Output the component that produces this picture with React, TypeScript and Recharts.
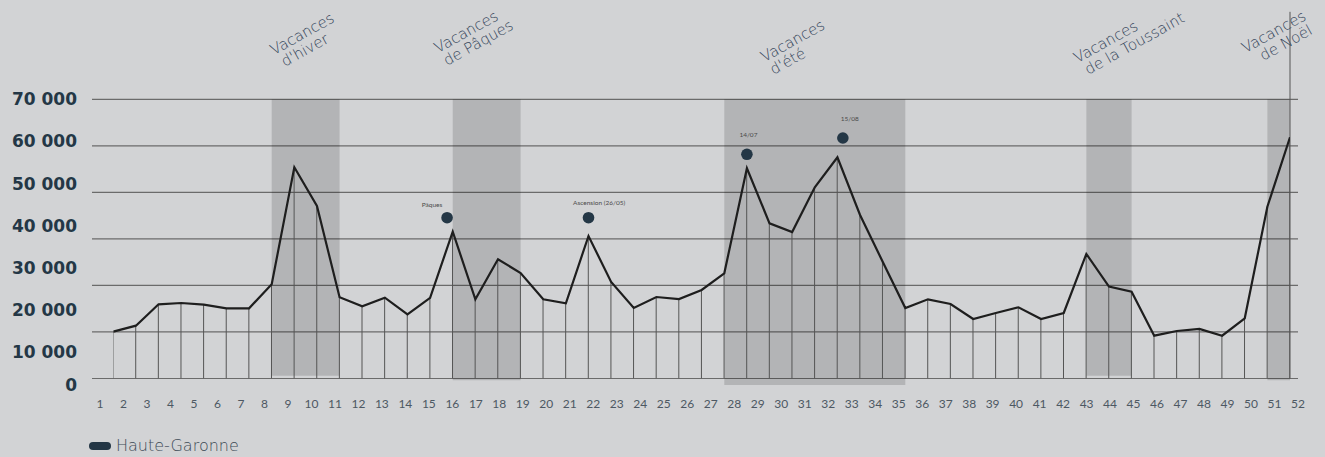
import React from 'react';
import {
  ComposedChart, Line, Bar, Scatter, XAxis, YAxis, CartesianGrid,
  ReferenceArea, ReferenceLine, Legend,
} from 'recharts';

// ---- data ----
const weekIndex = [
  1, 2, 3, 4, 5, 6, 7, 8, 9, 10, 11, 12, 13, 14, 15, 16, 17, 18, 19, 20,
  21, 22, 23, 24, 25, 26, 27, 28, 29, 30, 31, 32, 33, 34, 35, 36, 37, 38, 39, 40,
  41, 42, 43, 44, 45, 46, 47, 48, 49, 50, 51, 52, 53,
];
const hauteGaronne = [
  20060, 21350, 25950, 26220, 25860, 25090, 25090, 30240, 55390, 47070,
  27450, 25520, 27360, 23800, 27350, 41550, 27020, 35620, 32670, 27020,
  26160, 40620, 30740, 25150, 27510, 27080, 29020, 32610, 55170, 43350,
  41480, 51090, 57540, 45140, 35100, 25150, 27020, 26010, 22790, 24080,
  25300, 22790, 24080, 36760, 29770, 28650, 19200, 20210, 20640, 19200,
  22940, 46920, 61830,
];
const weekLabels = Array.from({ length: 52 }, (_, i) => i + 1);
const yTickValues = [0, 10000, 20000, 30000, 40000, 50000, 60000, 70000];
const gridValues = [10000, 20000, 30000, 40000, 50000, 60000, 70000];

const vacStart = [8, 16, 28, 44, 52];
const vacEnd = [11, 19, 36, 46, 53];
const vacBottom = [10600, 9650, 8600, 10600, 9650];
const vacLine1 = ['Vacances', 'Vacances', 'Vacances', 'Vacances', 'Vacances'];
const vacLine2 = ["d'hiver", 'de Pâques', "d'été", 'de la Toussaint', 'de Noël'];

const eventX = [15.75, 22, 29, 33.24];
const eventY = [44560, 44560, 58180, 61680];
const eventLabel = ['Pâques', 'Ascension (26/05)', '14/07', '15/08'];

const seriesName = 'Haute-Garonne';

// ---- derived tables ----
const rows = weekIndex.map((x, i) => ({ x, v: hauteGaronne[i] }));
const events = eventX.map((x, i) => ({ x, y: eventY[i], label: eventLabel[i], i }));

// ---- styles ----
const BG = '#d2d3d5';
const NAVY = '#243746';
const vacLabelOffset = [
  { dx: 2, dy: -44, l2: 4 },
  { dx: -15, dy: -46, l2: 2 },
  { dx: 40, dy: -37, l2: 2 },
  { dx: -9, dy: -36, l2: 4 },
  { dx: -22, dy: -46, l2: 12 },
];
const eventLabelOffset = [
  { dx: -15, dy: -13 },
  { dx: 10.6, dy: -15.4 },
  { dx: 1.5, dy: -20 },
  { dx: 7, dy: -19.7 },
];

const fmt = (v: number) => (v === 0 ? '0' : `${v / 1000} 000`);

const YTick = (props: any) => {
  const { x, y, payload } = props;
  const shift = payload.value === 0 ? -8.7 : 0;
  return (
    <text
      x={x}
      y={y + shift}
      dy="0.36em"
      textAnchor="end"
      fontFamily="'DejaVu Sans', sans-serif"
      fontWeight={700}
      fontSize={17}
      fill={NAVY}
    >
      {fmt(payload.value)}
    </text>
  );
};

const VacLabel = (props: any) => {
  const { viewBox, idx } = props;
  if (!viewBox) return null;
  const o = vacLabelOffset[idx];
  const x0 = viewBox.x + o.dx;
  const y0 = viewBox.y + o.dy;
  const ang = -29;
  const rad = (ang * Math.PI) / 180;
  const lh = 15.5;
  const x1 = x0 - Math.sin(rad) * lh + Math.cos(rad) * o.l2;
  const y1 = y0 + Math.cos(rad) * lh + Math.sin(rad) * o.l2;
  const common = {
    fontFamily: "'DejaVu Sans', sans-serif",
    fontSize: 15,
    fontWeight: 300,
    fill: '#34455a',
    stroke: BG,
    strokeWidth: 4,
    paintOrder: 'stroke',
    textAnchor: 'start' as const,
  };
  return (
    <g>
      <text x={x0} y={y0} transform={`rotate(${ang} ${x0} ${y0})`} {...common}>
        {vacLine1[idx]}
      </text>
      <text x={x1} y={y1} transform={`rotate(${ang} ${x1} ${y1})`} {...common}>
        {vacLine2[idx]}
      </text>
    </g>
  );
};

const EventDot = (props: any) => {
  const { cx, cy, payload } = props;
  const o = eventLabelOffset[payload.i];
  return (
    <g>
      <circle cx={cx} cy={cy} r={5.8} fill={NAVY} />
      <text
        x={cx + o.dx}
        y={cy + o.dy}
        dy="0.35em"
        textAnchor="middle"
        fontFamily="Lato, sans-serif"
        fontSize={6.5}
        fill="#4a4a4a"
      >
        {payload.label}
      </text>
    </g>
  );
};

const renderLegend = () => (
  <div style={{ display: 'flex', alignItems: 'center' }}>
    <span
      style={{
        display: 'inline-block',
        width: 22,
        height: 8,
        borderRadius: 4,
        background: NAVY,
        marginRight: 5,
      }}
    />
    <span
      style={{
        fontFamily: "'DejaVu Sans', sans-serif",
        fontWeight: 300,
        fontSize: 16,
        color: '#3d4a55',
        whiteSpace: 'nowrap',
      }}
    >
      {seriesName}
    </span>
  </div>
);

export default function App() {
  return (
    <div
      style={{
        position: 'absolute',
        left: 0,
        top: 0,
        width: 1325,
        height: 457,
        background: BG,
        overflow: 'hidden',
      }}
    >
      <ComposedChart
        width={1325}
        height={457}
        data={rows}
        margin={{ top: 99.3, right: 27, bottom: 33.3, left: 0 }}
      >
        <XAxis
          xAxisId="lab"
          dataKey="x"
          type="number"
          domain={[1, 52]}
          ticks={weekLabels}
          interval={0}
          allowDataOverflow
          padding={{ left: 8, right: 0 }}
          axisLine={false}
          tickLine={false}
          tickSize={0}
          tickMargin={6}
          height={30}
          tick={{ fontFamily: 'Lato, sans-serif', fontSize: 12, fill: '#4d5863' }}
        />
        <XAxis
          xAxisId="d"
          dataKey="x"
          type="number"
          domain={[1, 53]}
          hide
          height={0}
          padding={{ left: 21.3, right: 8 }}
          allowDataOverflow
        />
        <YAxis
          yAxisId="lab"
          type="number"
          domain={[0, 70000]}
          ticks={yTickValues}
          interval={0}
          allowDataOverflow
          width={92}
          axisLine={false}
          tickLine={false}
          tickSize={0}
          tickMargin={15}
          tick={<YTick />}
        />
        <YAxis
          yAxisId="d"
          type="number"
          domain={[10000, 70000]}
          ticks={gridValues}
          hide
          width={0}
          padding={{ top: 0, bottom: 15.2 }}
          allowDataOverflow
        />
        <CartesianGrid
          xAxisId="d"
          yAxisId="d"
          vertical={false}
          horizontalValues={gridValues}
          stroke="#6b6b6b"
          strokeWidth={1.2}
        />
        <ReferenceLine
          xAxisId="d"
          yAxisId="d"
          segment={[{ x: 53, y: 10000 }, { x: 53, y: 88800 }]}
          ifOverflow="visible"
          stroke="#555"
          strokeWidth={1}
        />
        {vacStart.map((s, i) => (
          <ReferenceArea
            key={`vac-${i}`}
            xAxisId="d"
            yAxisId="d"
            x1={s}
            x2={vacEnd[i]}
            y1={vacBottom[i]}
            y2={70000}
            ifOverflow="visible"
            fill="#000"
            fillOpacity={0.145}
            stroke="none"
            label={<VacLabel idx={i} />}
          />
        ))}
        <Bar
          xAxisId="d"
          yAxisId="d"
          dataKey="v"
          barSize={1}
          fill="#555"
          legendType="none"
          isAnimationActive={false}
        />
        <Line
          xAxisId="d"
          yAxisId="d"
          dataKey="v"
          name={seriesName}
          type="linear"
          stroke="#1e1e1e"
          strokeWidth={2.2}
          dot={false}
          activeDot={false}
          isAnimationActive={false}
        />
        <Scatter
          xAxisId="d"
          yAxisId="d"
          data={events}
          dataKey="y"
          shape={<EventDot />}
          legendType="none"
          isAnimationActive={false}
        />
        <Legend
          layout="vertical"
          verticalAlign="middle"
          align="center"
          wrapperStyle={{ left: 89, top: 436, width: 300, height: 22 }}
          content={renderLegend}
        />
      </ComposedChart>
    </div>
  );
}
